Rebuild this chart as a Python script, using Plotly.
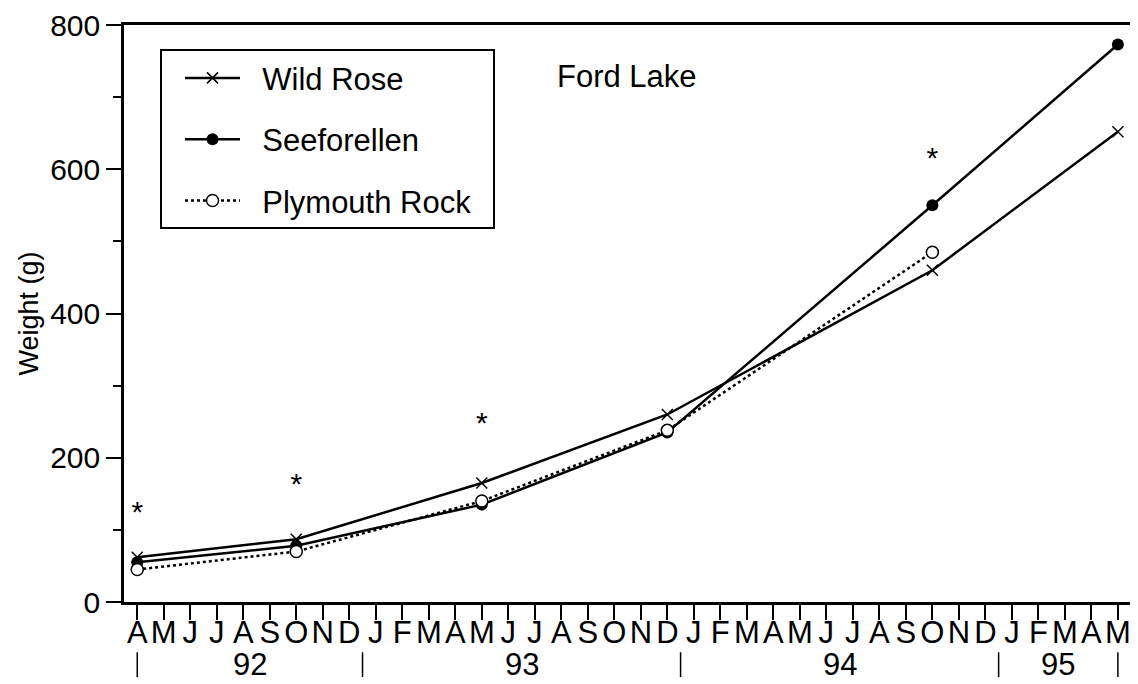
import plotly.graph_objects as go

# -- Månader på x-axeln (april 92 till maj 95)
month_labels = ["A", "M", "J", "J", "A", "S", "O", "N", "D"] + list("JFMAMJJASOND") * 2 + list("JFMAM")
month_pos = list(range(len(month_labels)))

# -- Årsgränser och årtal
year_breaks = [0, 8.5, 20.5, 32.5, 37]
year_labels = ["92", "93", "94", "95"]

# -- Provtagningar (månadsindex)
sample_x = [0, 6, 13, 20, 30, 37]
wild_rose = [62, 87, 165, 260, 460, 652]
seeforellen = [55, 78, 135, 235, 550, 773]
plymouth_x = [0, 6, 13, 20, 30]
plymouth_rock = [45, 70, 140, 238, 485]

# -- Signifikanta skillnader (*)
star_x = [0, 6, 13, 30]
star_y = [122, 160, 245, 612]

FONT = "Liberation Sans, Arial, Helvetica, sans-serif"
NB = "\u00a0\u00a0"

fig = go.Figure()

fig.add_trace(go.Scatter(
    x=sample_x, y=wild_rose, name=NB + "Wild Rose" + NB, mode="lines+markers",
    line=dict(color="black", width=2.5),
    marker=dict(symbol="x-thin", size=11, line=dict(color="black", width=1.5)),
    legendgroup="a",
))
fig.add_trace(go.Scatter(
    x=sample_x, y=seeforellen, name=NB + "Seeforellen" + NB, mode="lines+markers",
    line=dict(color="black", width=2.5),
    marker=dict(symbol="circle", size=12, color="black"),
    legendgroup="b",
))
fig.add_trace(go.Scatter(
    x=plymouth_x, y=plymouth_rock, name=NB + "Plymouth Rock" + NB, mode="lines+markers",
    line=dict(color="black", width=2.5, dash="dot"),
    marker=dict(symbol="circle", size=12, color="white", line=dict(color="black", width=1.5)),
    legendgroup="c",
))
fig.add_trace(go.Scatter(
    x=star_x, y=star_y, mode="text", text=["*"] * len(star_x),
    textposition="middle center", textfont=dict(size=30, color="black", family=FONT),
    showlegend=False, hoverinfo="skip",
))

# -- Årsavdelare och årtal under månaderna
for xb in year_breaks:
    fig.add_shape(type="line", xref="x", yref="paper", x0=xb, x1=xb, y0=-0.087, y1=-0.13,
                  line=dict(color="black", width=1.5))
for i, lab in enumerate(year_labels):
    fig.add_annotation(x=(year_breaks[i] + year_breaks[i + 1]) / 2, y=-0.109, xref="x", yref="paper",
                       text=lab, showarrow=False, yanchor="middle",
                       font=dict(size=31, color="black", family=FONT))

fig.add_annotation(x=0.4985, y=0.91, xref="paper", yref="paper", text="Ford Lake",
                   showarrow=False, xanchor="center", yanchor="middle",
                   font=dict(size=31, color="black", family=FONT))

fig.update_xaxes(
    range=[-0.5, 37.57], tickmode="array", tickvals=month_pos, ticktext=month_labels,
    ticks="outside", ticklen=15, tickwidth=1.5, tickcolor="black", ticklabelstandoff=-14,
    showline=True, linecolor="black", linewidth=2.5, mirror=True, automargin=False,
    ticklabeloverflow="allow",
    showgrid=False, zeroline=False, tickfont=dict(size=31, color="black", family=FONT),
)
fig.update_yaxes(
    range=[0, 800], tickvals=[0, 200, 400, 600, 800],
    ticks="outside", ticklen=15, tickwidth=1.5, tickcolor="black",
    minor=dict(dtick=100, ticks="outside", ticklen=8, tickwidth=1.5, tickcolor="black"),
    showline=True, linecolor="black", linewidth=2.5, mirror=True, automargin=False,
    ticklabeloverflow="allow",
    showgrid=False, zeroline=False, tickfont=dict(size=30, color="black", family=FONT),
    title=dict(text="Weight (g)", font=dict(size=27, color="black", family=FONT), standoff=4),
)

# sidan har 8 px marginal runt figuren
fig.update_layout(
    width=1130, height=676,
    margin=dict(l=116, r=5, t=17, b=82, autoexpand=False),
    plot_bgcolor="white", paper_bgcolor="white",
    font=dict(family=FONT, color="black"),
    legend=dict(
        x=0.0357, y=0.958, xanchor="left", yanchor="top",
        bgcolor="white", bordercolor="black", borderwidth=2,
        font=dict(size=31, color="black", family=FONT),
        tracegroupgap=18, itemwidth=55, indentation=18,
    ),
)

fig.write_html("out.html")
